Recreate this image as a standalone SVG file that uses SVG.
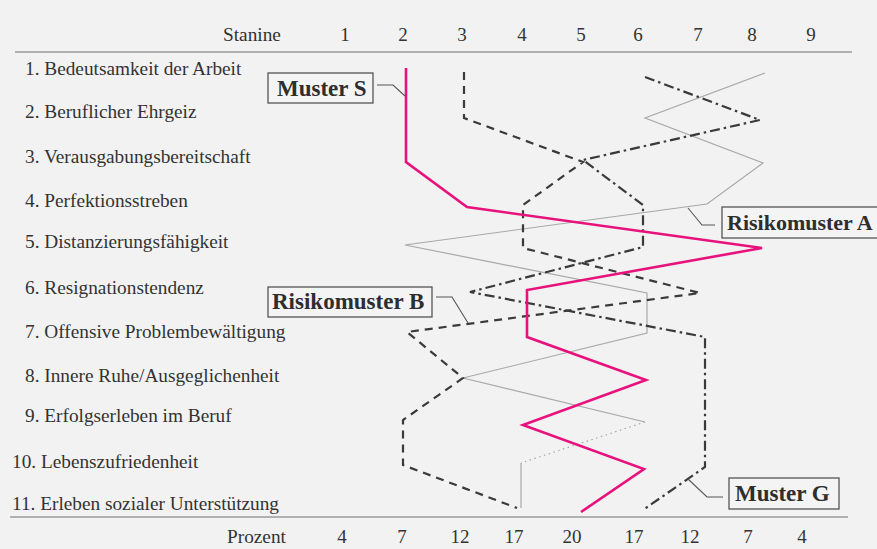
<svg xmlns="http://www.w3.org/2000/svg" width="877" height="549" viewBox="0 0 877 549">
<style>
  text { font-family: "Liberation Serif", "Times New Roman", serif; fill: #333333; }
  .lbl { font-size: 19.3px; }
  .num { font-size: 19px; text-anchor: middle; }
  .call { font-size: 23px; font-weight: bold; fill: #2e2e2e; }
  .box { fill: #f4f4f4; stroke: #555; stroke-width: 1.3; }
  .lead { fill: none; stroke: #555; stroke-width: 1.1; }
  .axis { stroke: #9a9a9a; stroke-width: 1.6; }
  .s { fill: none; stroke: #e8127c; stroke-width: 2.6; stroke-linejoin: miter; }
  .b { fill: none; stroke: #3a3a3a; stroke-width: 2.2; stroke-dasharray: 8 6; }
  .g { fill: none; stroke: #3a3a3a; stroke-width: 2.2; stroke-dasharray: 10 4 2.5 4; }
  .a { fill: none; stroke: #a8a8a8; stroke-width: 1.2; }
</style>
<rect x="0" y="0" width="877" height="549" fill="#f2f2f2"/>

<g id="axes">
  <line class="axis" x1="15" y1="52" x2="852" y2="52"/>
  <line class="axis" x1="10" y1="517" x2="848" y2="517"/>
  <text class="lbl" x="223" y="41">Stanine</text>
  <text class="num" x="345" y="41">1</text>
  <text class="num" x="403" y="41">2</text>
  <text class="num" x="462" y="41">3</text>
  <text class="num" x="522" y="41">4</text>
  <text class="num" x="581" y="41">5</text>
  <text class="num" x="638" y="41">6</text>
  <text class="num" x="698" y="41">7</text>
  <text class="num" x="752" y="41">8</text>
  <text class="num" x="811" y="41">9</text>
  <text class="lbl" x="227" y="543">Prozent</text>
  <text class="num" x="342" y="543">4</text>
  <text class="num" x="402" y="543">7</text>
  <text class="num" x="460" y="543">12</text>
  <text class="num" x="514" y="543">17</text>
  <text class="num" x="572" y="543">20</text>
  <text class="num" x="634" y="543">17</text>
  <text class="num" x="690" y="543">12</text>
  <text class="num" x="748" y="543">7</text>
  <text class="num" x="802" y="543">4</text>
</g>

<g id="row-labels">
  <text class="lbl" x="25" y="75">1. Bedeutsamkeit der Arbeit</text>
  <text class="lbl" x="25" y="118">2. Beruflicher Ehrgeiz</text>
  <text class="lbl" x="25" y="163">3. Verausgabungsbereitschaft</text>
  <text class="lbl" x="25" y="207">4. Perfektionsstreben</text>
  <text class="lbl" x="25" y="248">5. Distanzierungsfähigkeit</text>
  <text class="lbl" x="25" y="294">6. Resignationstendenz</text>
  <text class="lbl" x="25" y="338">7. Offensive Problembewältigung</text>
  <text class="lbl" x="25" y="382">8. Innere Ruhe/Ausgeglichenheit</text>
  <text class="lbl" x="25" y="422">9. Erfolgserleben im Beruf</text>
  <text class="lbl" x="12" y="468">10. Lebenszufriedenheit</text>
  <text class="lbl" x="12" y="510">11. Erleben sozialer Unterstützung</text>
</g>

<g id="connectors">
  <polyline id="line-A" class="a" points="765,73 645,118 763,163 707,204 405,245 647,293 647,333 463,378 645,422"/>
  <polyline class="a" points="645,422 521,463" stroke-dasharray="1.5 3.5"/>
  <polyline class="a" points="521,463 521,508"/>
  <polyline id="line-B" class="b" points="464,72 464,118 583,162 523,205 523,248 700,293 407,332 463,378 403,420 403,465 517,508"/>
  <polyline id="line-G" class="g" points="645,77 760,120 583,160 643,205 643,247 470,292 705,337 705,467 643,510"/>
  <polyline id="line-S" class="s" points="406,68 406,162 467,207 762,248 527,290 527,337 646,380 523,425 644,469 581,512"/>
  <polyline class="lead" points="377,85 393,85 405,96"/>
  <polyline class="lead" points="715,225 702,225 688,208"/>
  <polyline class="lead" points="436,297 452,297 468,323"/>
  <polyline class="lead" points="723,497 707,497 688,479"/>
</g>

<g id="callout-muster-s">
  <rect class="box" x="268" y="73" width="105" height="30"/>
  <text class="call" x="277" y="96">Muster S</text>
</g>
<g id="callout-risikomuster-a">
  <rect class="box" x="722" y="207" width="175" height="31"/>
  <text class="call" x="727" y="230" style="font-size:22px">Risikomuster A</text>
</g>
<g id="callout-risikomuster-b">
  <rect class="box" x="268" y="287" width="164" height="30"/>
  <text class="call" x="272" y="309">Risikomuster B</text>
</g>
<g id="callout-muster-g">
  <rect class="box" x="729" y="478" width="110" height="31"/>
  <text class="call" x="735" y="501">Muster G</text>
</g>
</svg>
